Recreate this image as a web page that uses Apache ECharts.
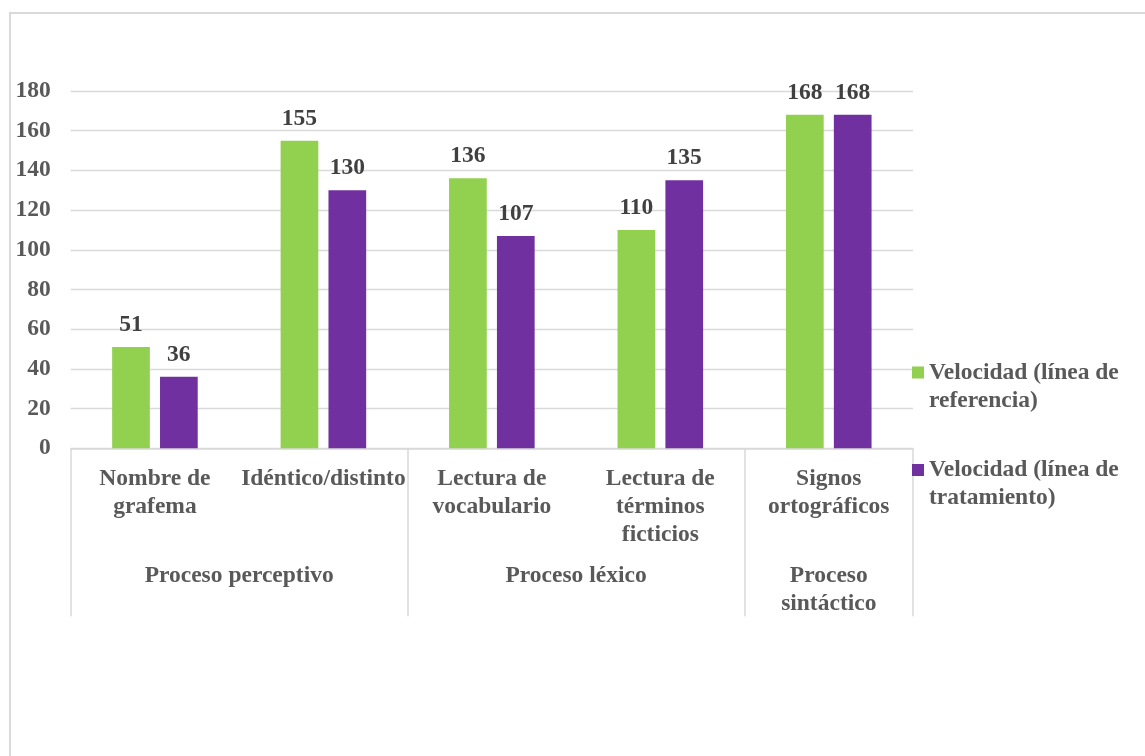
<!DOCTYPE html>
<html>
<head>
<meta charset="utf-8">
<script src="https://cdn.jsdelivr.net/npm/echarts@6/dist/echarts.min.js"></script>
<style>
  html, body { margin: 0; padding: 0; background: #ffffff; }
  #chart { width: 1145px; height: 756px; }
</style>
</head>
<body>
<div id="chart"></div>
<script>
// Task categories (first axis level)
const categories = [
  'Nombre de\ngrafema',
  'Idéntico/distinto',
  'Lectura de\nvocabulario',
  'Lectura de\ntérminos\nficticios',
  'Signos\nortográficos'
];
// Process groups (second axis level) and how many tasks each spans
const groupNames = ['Proceso perceptivo', 'Proceso léxico', 'Proceso\nsintáctico'];
const groupSpans = [2, 2, 1];

const seriesNames = ['Velocidad (línea de referencia)', 'Velocidad (línea de tratamiento)'];
const legendLabels = ['Velocidad (línea de\nreferencia)', 'Velocidad (línea de\ntratamiento)'];
const referencia = [51, 155, 136, 110, 168];
const tratamiento = [36, 130, 107, 135, 168];

const yTicks = { min: 0, max: 180, step: 20 };

// Second-level axis: half-category slots so group labels sit at span centres
// and ticks fall on group boundaries.
const slotCount = categories.length * 2 + 1;
const groupSlots = new Array(slotCount).fill('');
const boundaries = new Set([0]);
let pos = 0;
groupNames.forEach((name, i) => {
  groupSlots[pos + groupSpans[i]] = name;
  pos += groupSpans[i] * 2;
  boundaries.add(pos);
});

const FONT = '"Liberation Serif", "Times New Roman", serif';
const AXIS_GREY = '#595959';
const LINE_GREY = '#d9d9d9';
const FS = 23.5;
const LH = 28;

// Legend swatch: a 12px square level with the first text line of a
// two-line (56px) legend entry; tiny corner dots fix the path's extent.
const legendIcon = 'path://M0,0h0.01v0.01h-0.01zM0,8h12v12h-12zM11.99,55.99h0.01v0.01h-0.01z';

const chart = echarts.init(document.getElementById('chart'), null, { renderer: 'canvas' });
chart.setOption({
  backgroundColor: '#ffffff',
  animation: false,
  textStyle: { fontFamily: FONT },
  graphic: [{
    type: 'rect',
    shape: { x: 10, y: 13, width: 1200, height: 800 },
    style: { fill: 'none', stroke: LINE_GREY, lineWidth: 2 },
    silent: true,
    z: -10
  }],
  grid: { left: 70.7, right: 232, top: 91, bottom: 307.7, containLabel: false },
  legend: {
    orient: 'vertical',
    left: 912,
    top: 358.5,
    padding: 0,
    itemWidth: 12,
    itemHeight: 56,
    itemGap: 41.5,
    icon: legendIcon,
    data: seriesNames,
    formatter: (name) => legendLabels[seriesNames.indexOf(name)],
    textStyle: {
      fontFamily: FONT, fontSize: FS, fontWeight: 'bold', color: AXIS_GREY,
      lineHeight: LH
    }
  },
  xAxis: [
    {
      type: 'category',
      data: categories,
      position: 'bottom',
      axisLine: { show: true, lineStyle: { color: LINE_GREY, width: 1.5 } },
      axisTick: { show: false },
      axisLabel: {
        interval: 0, margin: 17, color: AXIS_GREY, fontFamily: FONT,
        fontSize: FS, fontWeight: 'bold', lineHeight: LH
      }
    },
    {
      type: 'category',
      data: groupSlots,
      position: 'bottom',
      boundaryGap: false,
      axisLine: { show: false },
      axisTick: {
        show: true, length: 168,
        interval: (idx) => boundaries.has(idx),
        lineStyle: { color: LINE_GREY, width: 1.5 }
      },
      axisLabel: {
        interval: (idx, val) => val !== '',
        margin: 114, color: AXIS_GREY, fontFamily: FONT,
        fontSize: FS, fontWeight: 'bold', lineHeight: LH
      },
      splitLine: { show: false }
    }
  ],
  yAxis: {
    type: 'value',
    min: yTicks.min,
    max: yTicks.max,
    interval: yTicks.step,
    axisLine: { show: false },
    axisTick: { show: false },
    splitLine: { lineStyle: { color: LINE_GREY, width: 1.3 } },
    axisLabel: {
      margin: 20, color: AXIS_GREY, fontFamily: FONT,
      fontSize: FS, fontWeight: 'bold'
    }
  },
  series: [
    {
      name: seriesNames[0],
      type: 'bar',
      xAxisIndex: 0,
      data: referencia,
      barWidth: 37.7,
      barGap: '27%',
      itemStyle: { color: '#92d050' },
      label: {
        show: true, position: 'top', distance: 8, color: '#404040',
        fontFamily: FONT, fontSize: FS, fontWeight: 'bold', lineHeight: LH
      }
    },
    {
      name: seriesNames[1],
      type: 'bar',
      xAxisIndex: 0,
      data: tratamiento,
      barWidth: 37.7,
      barGap: '27%',
      itemStyle: { color: '#7030a0' },
      label: {
        show: true, position: 'top', distance: 8, color: '#404040',
        fontFamily: FONT, fontSize: FS, fontWeight: 'bold', lineHeight: LH
      }
    }
  ]
});
</script>
</body>
</html>
